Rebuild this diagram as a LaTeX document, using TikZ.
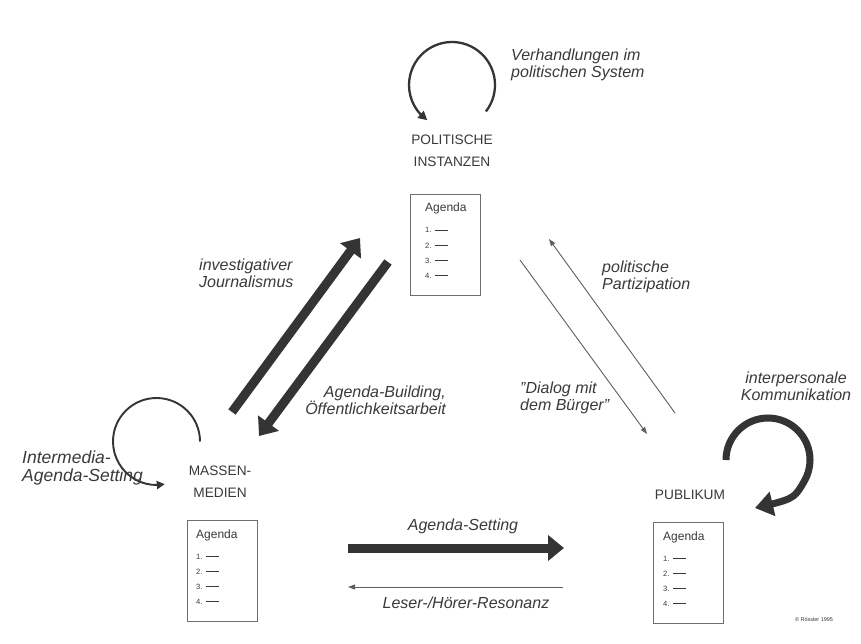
\documentclass[tikz,border=0pt]{standalone}
\usepackage{fontspec}
\setmainfont{Liberation Sans}
\usetikzlibrary{arrows.meta,bending,calc}
\definecolor{ink}{RGB}{52,52,52}
\definecolor{txt}{RGB}{58,58,58}
\definecolor{thinc}{RGB}{95,95,95}
\definecolor{boxc}{RGB}{110,110,110}
\newcommand\agendaitems[2]{%
  \node[agtitle] (#1t) at ($(#1.north west)+(#2,-18)$) {Agenda};
  \node[agitem] (#1a) at ($(#1.north west)+(#2,-39)$) {1.\hspace{3.5pt}\rule[2.5pt]{13pt}{0.7pt}};
  \node[agitem] (#1b) at ($(#1.north west)+(#2,-54)$) {2.\hspace{3.5pt}\rule[2.5pt]{13pt}{0.7pt}};
  \node[agitem] (#1c) at ($(#1.north west)+(#2,-69)$) {3.\hspace{3.5pt}\rule[2.5pt]{13pt}{0.7pt}};
  \node[agitem] (#1d) at ($(#1.north west)+(#2,-84)$) {4.\hspace{3.5pt}\rule[2.5pt]{13pt}{0.7pt}};
}
\begin{document}
\begin{tikzpicture}[x=1pt,y=1pt,
  lab/.style={font=\fontsize{13.7}{22}\selectfont, text=txt, align=center, inner sep=0},
  itl/.style={font=\fontsize{16}{17.5}\selectfont\itshape, text=txt, inner sep=0},
  agbox/.style={draw=boxc, line width=0.8pt, minimum width=70pt, minimum height=101pt, inner sep=0, anchor=north west},
  agtitle/.style={font=\fontsize{12}{14}\selectfont, text=txt, inner sep=0, anchor=base west},
  agitem/.style={font=\fontsize{7.6}{8}\selectfont, text=txt, inner sep=0, anchor=base west},
  fat/.style={draw=ink, line width=9pt, -{Triangle[width=25pt,length=16pt]}},
  slim/.style={draw=thinc, line width=0.9pt, -{Triangle[width=5pt,length=7pt]}},
  loopar/.style={draw=ink, line width=2.3pt, -{Triangle[width=9pt,length=9pt]}},
  bigloop/.style={draw=ink, line width=7pt, -{Triangle[width=24pt,length=18pt]}},
]
\useasboundingbox[fill=white] (0,0) rectangle (861,-644);

% boxes
\node[agbox] (agP) at (410,-194) {};
\node[agbox] (agM) at (187,-520) {};
\node[agbox] (agU) at (653,-522) {};
\agendaitems{agP}{15}
\agendaitems{agM}{9}
\agendaitems{agU}{10}

% main labels
\node[lab, anchor=north] (polit) at (452,-134.3) {POLITISCHE\\INSTANZEN};
\node[lab, anchor=north] (mass) at (220,-465.3) {MASSEN-\\MEDIEN};
\node[lab, anchor=base] (pub) at (690,-499) {PUBLIKUM};

% loops
\coordinate (cP) at (452,-85);
\draw[loopar] ($(cP)+(-38:43)$) arc[start angle=-38, end angle=235, radius=43];
\coordinate (cM) at (156.5,-441.5);
\draw[loopar, line width=1.9pt, -{Triangle[width=8pt,length=8pt]}] ($(cM)+(0:43.5)$) arc[start angle=0, end angle=281, radius=43.5];
\coordinate (cU) at (768,-460);
\coordinate (uEnd) at (755,-508);
\draw[bigloop] ($(cU)+(180:42)$) arc[start angle=180, end angle=-30, radius=42] .. controls (794,-499) .. (uEnd);

% thick diagonal arrows
\coordinate (j1) at (232,-412);
\coordinate (j2) at (360,-238);
\coordinate (b1) at (388,-262);
\coordinate (b2) at (259,-436);
\draw[fat] (j1) -- (j2);
\draw[fat] (b1) -- (b2);

% thin diagonal arrows
\coordinate (d1) at (520,-260);
\coordinate (d2) at (647,-434);
\coordinate (p1) at (675,-413);
\coordinate (p2) at (549,-239);
\draw[slim] (d1) -- (d2);
\draw[slim] (p1) -- (p2);

% horizontal arrows
\coordinate (s1) at (348,-548);
\coordinate (s2) at (564,-548);
\coordinate (r1) at (563,-587);
\coordinate (r2) at (348,-587);
\draw[fat] (s1) -- (s2);
\draw[slim] (r1) -- (r2);

% arrow labels
\node[itl, align=left, anchor=north west] (verh) at (511,-48.4) {Verhandlungen im\\politischen System};
\node[itl, align=center, anchor=north] (inter) at (796,-371.4) {interpersonale\\Kommunikation};
\node[itl, font=\fontsize{17.5}{18}\selectfont\itshape, align=left, anchor=north west] (imed) at (22,-450.5) {Intermedia-\\Agenda-Setting};
\node[itl, align=left, anchor=north west] (invest) at (199,-258.4) {investigativer\\Journalismus};
\node[itl, align=right, anchor=north east] (abuild) at (446,-385.4) {Agenda-Building,\\Öffentlichkeitsarbeit};
\node[itl, align=left, anchor=north west] (partiz) at (602,-260.4) {politische\\Partizipation};
\node[itl, align=left, anchor=north west] (dialog) at (520,-381.4) {\symbol{34}Dialog mit\\dem Bürger\symbol{34}};
\node[itl, anchor=base] (aset) at (463,-530) {Agenda-Setting};
\node[itl, anchor=base] (leser) at (466,-608) {Leser-/Hörer-Resonanz};
\node[font=\fontsize{5.5}{6}\selectfont, text=txt, inner sep=0, anchor=base] (copy) at (814,-621) {© Rössler 1995};
\end{tikzpicture}
\end{document}
